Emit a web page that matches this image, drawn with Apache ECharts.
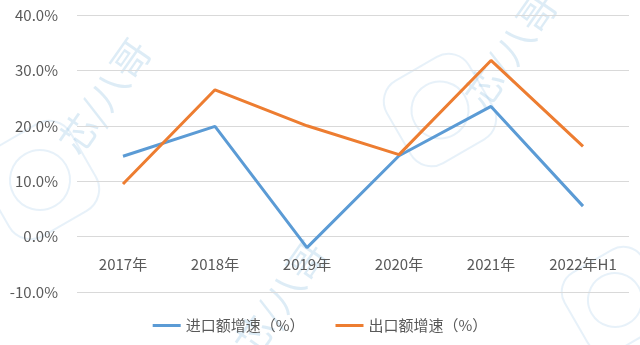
<!DOCTYPE html>
<html>
<head>
<meta charset="utf-8">
<script src="https://cdn.jsdelivr.net/npm/echarts@6/dist/echarts.min.js"></script>
<style>
  html, body { margin: 0; padding: 0; background: #fff; }
  #chart { width: 640px; height: 345px; }
</style>
</head>
<body>
<div id="chart"></div>
<script>
// Years on the category axis
const categories = ['2017年', '2018年', '2019年', '2020年', '2021年', '2022年H1'];
// Growth rates, percent
const importGrowth = [14.5, 19.9, -2.0, 14.6, 23.5, 5.5];
const exportGrowth = [9.5, 26.5, 20.0, 14.8, 31.8, 16.3];
const seriesNames = ['进口额增速（%）', '出口额增速（%）'];
const yTicks = { min: -10, max: 40, interval: 10 };

const FONT = '"Noto Sans CJK SC", "Noto Sans", sans-serif';
const MARK = 'rgba(120,180,220,0.25)';
const chart = echarts.init(document.getElementById('chart'), null, { renderer: 'canvas' });

// Faint brand watermark text
function mark(x, y) {
  return {
    type: 'text', x: x, y: y, rotation: Math.PI * 55 / 180, z: -1,
    style: { text: '芯/八哥', fill: MARK, font: '38px ' + FONT }
  };
}
// Faint brand badge: rounded square with a ring inside
function badge(cx, cy, size) {
  return {
    type: 'group', x: cx, y: cy, rotation: Math.PI / 6, z: -1,
    children: [
      { type: 'rect', shape: { x: -size / 2, y: -size / 2, width: size, height: size, r: size * 0.25 },
        style: { fill: 'none', stroke: 'rgba(120,180,220,0.18)', lineWidth: 2 } },
      { type: 'circle', shape: { cx: 0, cy: 0, r: size * 0.3 },
        style: { fill: 'none', stroke: 'rgba(120,180,220,0.18)', lineWidth: 2 } }
    ]
  };
}

chart.setOption({
  animation: false,
  textStyle: { fontFamily: FONT },
  graphic: [
    badge(40, 180, 100), badge(440, 110, 95), badge(615, 300, 90),
    mark(52, 138), mark(228, 340), mark(458, 92)
  ],
  grid: { left: 77, right: 11, top: 15, bottom: 53 },
  legend: {
    bottom: 7,
    left: 'center',
    itemGap: 31,
    itemWidth: 28,
    itemHeight: 3,
    icon: 'rect',
    textStyle: { fontSize: 15, color: '#595959', fontFamily: FONT },
    data: seriesNames
  },
  xAxis: {
    type: 'category',
    data: categories,
    boundaryGap: true,
    // labels sit just under the zero line, above the lower grid edge
    axisLine: { show: false },
    axisTick: { show: false },
    axisLabel: { color: '#595959', fontSize: 15, margin: -35, fontFamily: FONT }
  },
  yAxis: {
    type: 'value',
    min: yTicks.min, max: yTicks.max, interval: yTicks.interval,
    axisLine: { show: false },
    axisTick: { show: false },
    splitLine: { lineStyle: { color: '#d9d9d9', width: 1 } },
    axisLabel: {
      color: '#595959', fontSize: 15, margin: 19, fontFamily: FONT,
      formatter: v => v.toFixed(1) + '%'
    }
  },
  series: [
    {
      name: seriesNames[0], type: 'line', data: importGrowth,
      symbol: 'none', lineStyle: { color: '#5B9BD5', width: 3 },
      itemStyle: { color: '#5B9BD5' }
    },
    {
      name: seriesNames[1], type: 'line', data: exportGrowth,
      symbol: 'none', lineStyle: { color: '#ED7D31', width: 3 },
      itemStyle: { color: '#ED7D31' }
    }
  ]
});
</script>
</body>
</html>
